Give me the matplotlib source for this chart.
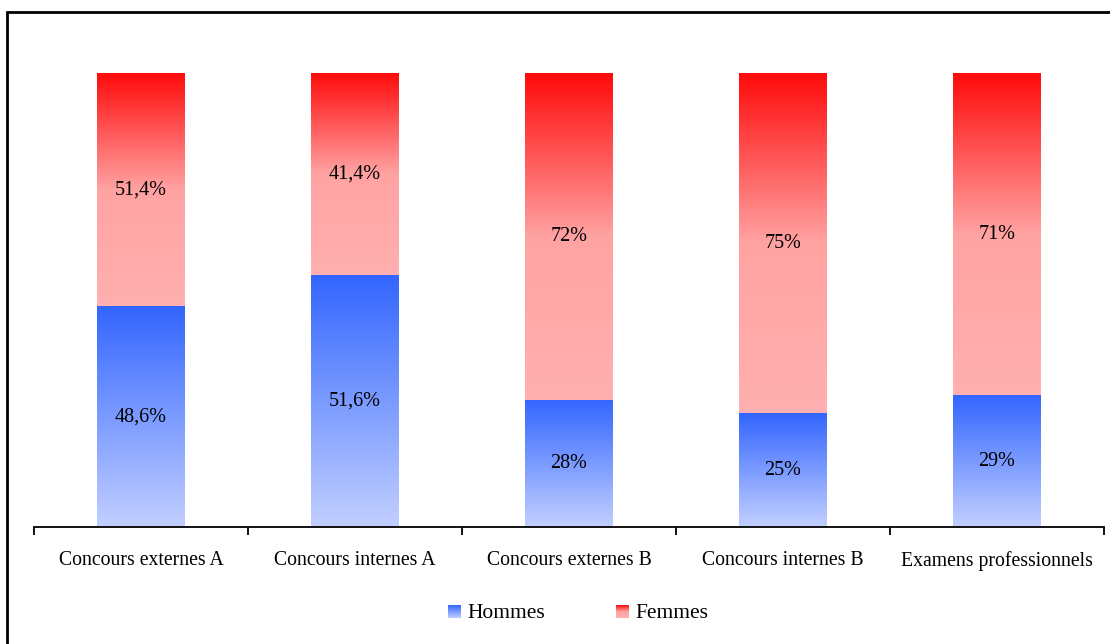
import matplotlib
matplotlib.use("Agg")
import matplotlib.pyplot as plt
import numpy as np
from matplotlib.colors import LinearSegmentedColormap
from matplotlib.patches import Rectangle

categories = ["Concours externes A", "Concours internes A", "Concours externes B",
              "Concours internes B", "Examens professionnels"]
hommes = [48.6, 51.6, 28, 25, 29]
femmes = [51.4, 41.4, 72, 75, 71]
hommes_labels = ["48,6%", "51,6%", "28%", "25%", "29%"]
femmes_labels = ["51,4%", "41,4%", "72%", "75%", "71%"]

plt.rcParams['font.family'] = ['Liberation Serif', 'DejaVu Serif']

# bottom -> top colours
blue_cmap = LinearSegmentedColormap.from_list("bl", ["#c2cfff", "#3366ff"])
red_cmap = LinearSegmentedColormap.from_list("rd", ["#ffb0b0", "#ffa2a2", "#ff0a0a"])
grad = np.linspace(0, 1, 256).reshape(-1, 1)

fig = plt.figure(figsize=(11.10, 6.44), dpi=100)
ax = fig.add_axes([34/1110, 1 - 527/644, 1070/1110, 454/644])

n = len(categories)
x = np.arange(n)
width = 0.41
for i in range(n):
    total = hommes[i] + femmes[i]
    h = hommes[i] / total * 100
    ax.imshow(grad, cmap=blue_cmap, origin="lower", aspect="auto",
              extent=[x[i] - width/2, x[i] + width/2, 0, h], interpolation="bilinear")
    ax.imshow(grad, cmap=red_cmap, origin="lower", aspect="auto",
              extent=[x[i] - width/2, x[i] + width/2, h, 100], interpolation="bilinear")
    ax.text(x[i], h/2, hommes_labels[i], ha="center", va="center", fontsize=14.5)
    ax.text(x[i], h + (100 - h)/2, femmes_labels[i], ha="center", va="center", fontsize=14.5)

ax.set_xlim(-0.5, n - 0.5)
ax.set_ylim(0, 100)
for s in ["top", "right", "left"]:
    ax.spines[s].set_visible(False)
ax.spines["bottom"].set_linewidth(1.3)
ax.set_yticks([])
ax.set_xticks(x)
ax.set_xticklabels(categories, fontsize=14.2)
ax.tick_params(axis="x", which="major", length=0, pad=17)
ax.set_xticks(np.arange(-0.5, n), minor=True)
ax.tick_params(axis="x", which="minor", length=6, width=1.3, direction="out")

# legend drawn by hand with gradient squares
def legend_square(x0, cmap, label):
    lax = fig.add_axes([x0/1110, 1 - 618/644, 13/1110, 13/644])
    lax.imshow(grad, cmap=cmap, origin="lower", aspect="auto", interpolation="bilinear")
    lax.axis("off")
    fig.text((x0 + 19)/1110, 1 - 613/644, label, ha="left", va="center", fontsize=15.5)

legend_square(448, blue_cmap, "Hommes")
legend_square(616, red_cmap, "Femmes")

# outer frame
fig.patches.append(Rectangle((7/1110, -0.1), 1.2, 1 - 12/644 + 0.1,
                             transform=fig.transFigure, fill=False,
                             edgecolor="black", linewidth=2))

fig.savefig("out.png", dpi=100)
